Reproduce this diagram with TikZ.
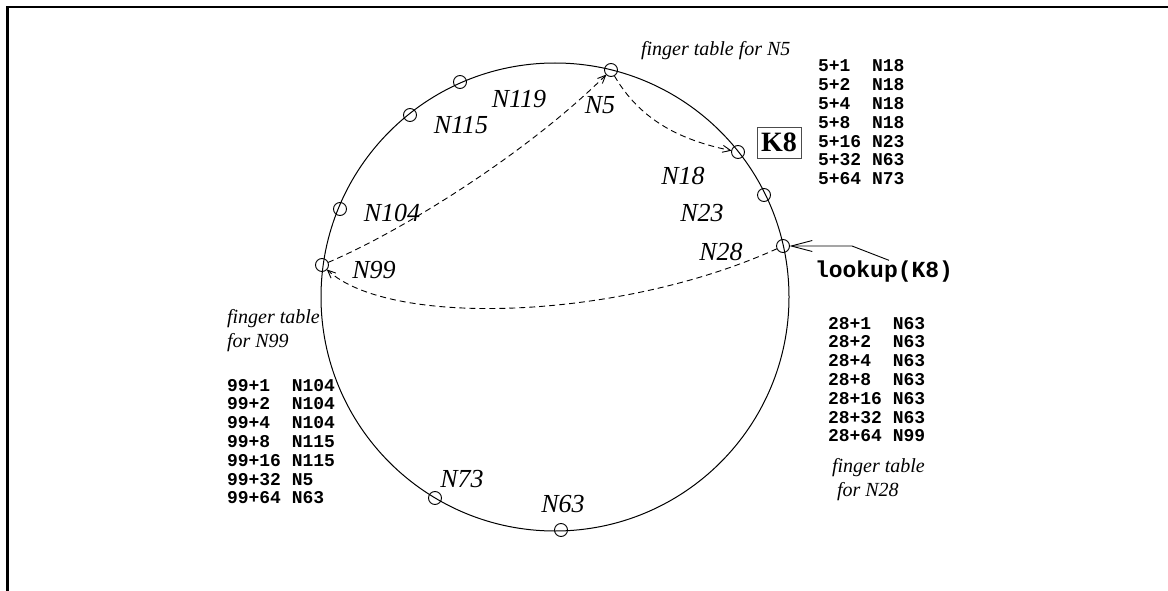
\documentclass[tikz,border=0pt]{standalone}
\usepackage{fontspec}
\setmainfont{Liberation Serif}
\setmonofont{Liberation Mono}
\usetikzlibrary{arrows.meta,positioning}

\begin{document}
\begin{tikzpicture}[
    x=1pt, y=-1pt,
    every node/.style={inner sep=0pt, outer sep=0pt},
    peer/.style={circle, draw, line width=0.9pt, minimum size=13pt},
    peerlabel/.style={font=\fontsize{26}{28}\selectfont\itshape},
    caption/.style={font=\fontsize{20}{24}\selectfont\itshape, align=left},
    fingers/.style={font=\fontsize{18}{18.8}\selectfont\ttfamily\bfseries, anchor=base west},
    hop/.style={line width=0.9pt, dash pattern=on 6pt off 4pt, -{Straight Barb[length=8pt,width=7pt]}}
  ]
    \useasboundingbox (0,0) rectangle (1168,591);

    % Frame (top and left edges)
    \draw[line width=2.5pt] (7.5,591) -- (7.5,7) -- (1168,7);

    % Ring
    \draw[line width=1pt] (555,297) circle[radius=234];

    % Peers on the ring
    \node[peer] (n5) at (611,70) {};
    \node[peer] (n119) at (460,82) {};
    \node[peer] (n115) at (410,115) {};
    \node[peer] (n104) at (340,209) {};
    \node[peer] (n99) at (322,265) {};
    \node[peer] (n73) at (435,498) {};
    \node[peer] (n63) at (561,530) {};
    \node[peer] (n28) at (783,246) {};
    \node[peer] (n23) at (764,195) {};
    \node[peer] (n18) at (738,152) {};

    % Peer labels
    \node[peerlabel] (l5) at (600,105) {N5};
    \node[peerlabel] (l119) at (519,99) {N119};
    \node[peerlabel] (l115) at (461,125) {N115};
    \node[peerlabel] (l104) at (392,213) {N104};
    \node[peerlabel] (l99) at (374,270) {N99};
    \node[peerlabel] (l73) at (462,479) {N73};
    \node[peerlabel] (l63) at (563,504) {N63};
    \node[peerlabel] (l28) at (721,252) {N28};
    \node[peerlabel] (l23) at (702,213) {N23};
    \node[peerlabel] (l18) at (683,176) {N18};

    % Key
    \node[draw=black!70, line width=0.8pt, minimum width=44pt, minimum height=31pt,
          font=\fontsize{28}{30}\selectfont\bfseries] (k8) at (779,142.5) {K8};

    % Finger tables
    \node[caption, anchor=base west] (ft5) at (641,56) {finger table for N5};
    \node[fingers] (tab5) at (818,72) {\begin{tabular}[t]{@{}l@{\ }l@{}}
      5+1 & N18\\ 5+2 & N18\\ 5+4 & N18\\ 5+8 & N18\\
      5+16 & N23\\ 5+32 & N63\\ 5+64 & N73
    \end{tabular}};

    \node[caption, anchor=north west] (ft99) at (227,309) {finger table\\for N99};
    \node[fingers] (tab99) at (227,391) {\begin{tabular}[t]{@{}l@{\ }l@{}}
      99+1 & N104\\ 99+2 & N104\\ 99+4 & N104\\ 99+8 & N115\\
      99+16 & N115\\ 99+32 & N5\\ 99+64 & N63
    \end{tabular}};

    \node[fingers] (tab28) at (828,329) {\begin{tabular}[t]{@{}l@{\ }l@{}}
      28+1 & N63\\ 28+2 & N63\\ 28+4 & N63\\ 28+8 & N63\\
      28+16 & N63\\ 28+32 & N63\\ 28+64 & N99
    \end{tabular}};
    \node[caption, anchor=north west] (ft28) at (832,458) {finger table\\\hspace*{5pt}for N28};

    % Lookup request
    \node[font=\fontsize{23}{25}\selectfont\ttfamily\bfseries, anchor=base west] (lookup) at (815,277) {lookup(K8)};
    \coordinate (kink) at (852,246);
    \draw[line width=0.9pt, -{Straight Barb[length=21pt,width=11pt]}] ([xshift=5pt]lookup.north) -- (kink) -- (n28);

    % Lookup path
    \draw[hop] (n28) .. controls (620,320) and (390,328) .. (n99);
    \draw[hop] (n99) .. controls (400,232) and (525,155) .. (n5);
    \draw[hop] (n5) .. controls (640,120) and (680,140) .. (n18);

\end{tikzpicture}
\end{document}
